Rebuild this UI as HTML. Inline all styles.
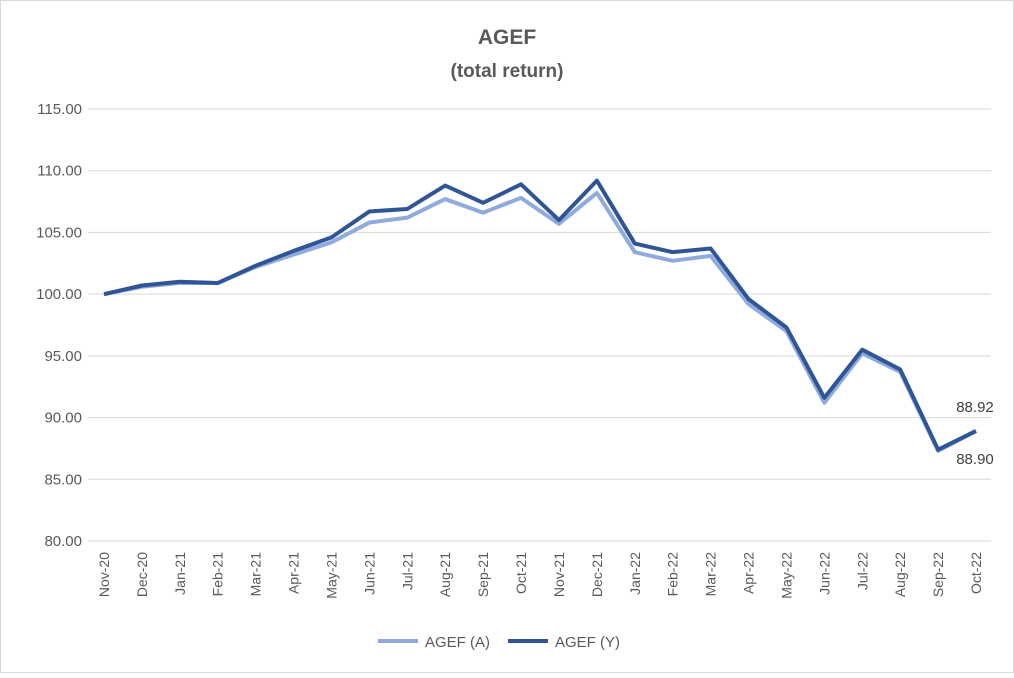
<!DOCTYPE html>
<html><head><meta charset="utf-8"><style>
body{margin:0;background:#fff;font-family:"Liberation Sans",sans-serif;}
svg text{font-family:"Liberation Sans",sans-serif;}
</style></head><body>
<svg id="chart" width="1014" height="673" xmlns="http://www.w3.org/2000/svg">
<rect x="0.5" y="0.5" width="1013" height="672" fill="#fff" stroke="#d9d9d9"/>
<text x="507" y="44" text-anchor="middle" font-size="21" font-weight="bold" fill="#595959">AGEF</text>
<text x="507" y="77" text-anchor="middle" font-size="19" font-weight="bold" fill="#595959">(total return)</text>
<g id="grid"></g><g id="xlab"></g><g id="series"></g>
<g>
<line x1="378" y1="641" x2="418" y2="641" stroke="#8faadc" stroke-width="4"/>
<text x="425" y="647" font-size="15" fill="#595959">AGEF (A)</text>
<line x1="508" y1="641" x2="548" y2="641" stroke="#2f5597" stroke-width="4"/>
<text x="555" y="647" font-size="15" fill="#595959">AGEF (Y)</text>
</g>
</svg>
<script>
const categories=["Nov-20","Dec-20","Jan-21","Feb-21","Mar-21","Apr-21","May-21","Jun-21","Jul-21","Aug-21","Sep-21","Oct-21","Nov-21","Dec-21","Jan-22","Feb-22","Mar-22","Apr-22","May-22","Jun-22","Jul-22","Aug-22","Sep-22","Oct-22"];
const seriesA=[100,100.6,100.9,100.9,102.2,103.2,104.2,105.8,106.2,107.7,106.6,107.8,105.7,108.2,103.4,102.7,103.1,99.2,97.0,91.2,95.2,93.7,87.3,88.90];
const seriesY=[100,100.7,101.0,100.9,102.3,103.5,104.6,106.7,106.9,108.8,107.4,108.9,106.0,109.2,104.1,103.4,103.7,99.6,97.3,91.6,95.5,93.9,87.4,88.92];
const yTicks=[80,85,90,95,100,105,110,115];
const NS="http://www.w3.org/2000/svg";
const x=i=>104+i*(976-104)/(categories.length-1);
const y=v=>541-(v-80)*(541-109)/35;
function mk(t,a,p){const e=document.createElementNS(NS,t);for(const k in a)e.setAttribute(k,a[k]);p.appendChild(e);return e;}
const grid=document.getElementById('grid');
yTicks.forEach(v=>{
 const l=mk('line',{x1:88,x2:991,y1:y(v),y2:y(v),stroke:'#d9d9d9','stroke-width':1},grid);
 
 
 const t=mk('text',{x:82,y:y(v)+5,'text-anchor':'end','font-size':15,fill:'#595959'},grid);
 t.textContent=v.toFixed(2);
 
 
});
const xl=document.getElementById('xlab');
categories.forEach((c,i)=>{
 const t=mk('text',{transform:`translate(${x(i)+5},552) rotate(-90)`,'text-anchor':'end','font-size':14,fill:'#595959'},xl);
 t.textContent=c;
 
 
});
const sg=document.getElementById('series');
function line(data,col,name){
 const p=mk('polyline',{points:data.map((v,i)=>x(i)+','+y(v)).join(' '),fill:'none',stroke:col,'stroke-width':4,'stroke-linejoin':'round'},sg);
 
 
}
line(seriesA,'#8faadc','series-agef-a');
line(seriesY,'#2f5597','series-agef-y');
const n=categories.length-1;
const ty=mk('text',{x:x(n)-1,y:y(seriesY[n])-19,'text-anchor':'middle','font-size':15,fill:'#404040'},sg);
ty.textContent=seriesY[n].toFixed(2);


const ta=mk('text',{x:x(n)-1,y:y(seriesA[n])+33,'text-anchor':'middle','font-size':15,fill:'#404040'},sg);
ta.textContent=seriesA[n].toFixed(2);


</script>
</body></html>
